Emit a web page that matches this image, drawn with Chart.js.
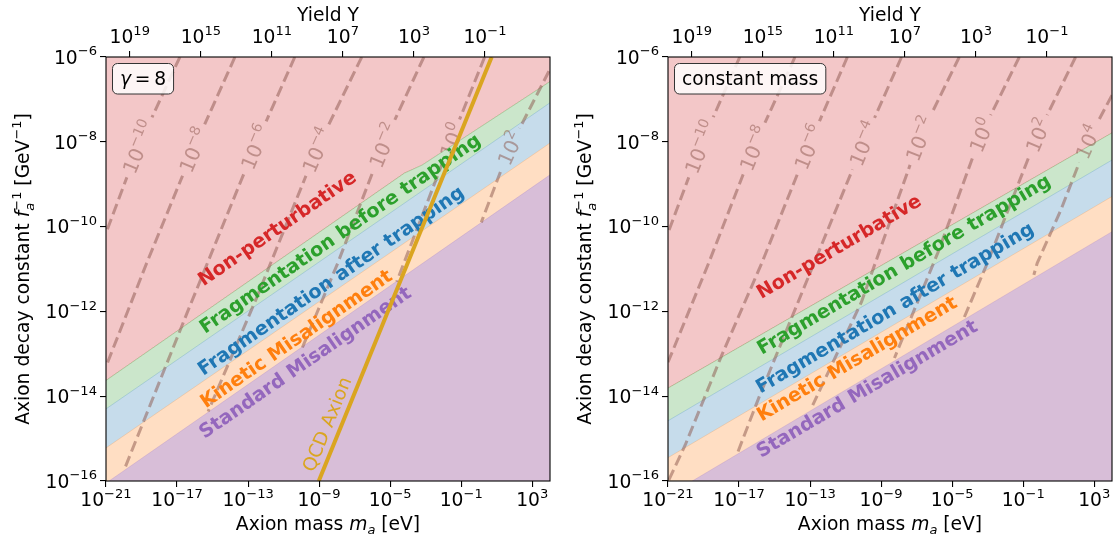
<!DOCTYPE html>
<html>
<head>
<meta charset="utf-8">
<script src="https://cdn.jsdelivr.net/npm/chart.js@4.4.1/dist/chart.umd.min.js"></script>
<style>
  body { margin: 0; background: #fff; }
  #wrap { position: relative; width: 1118px; height: 540px; }
  canvas { position: absolute; top: 0; }
</style>
</head>
<body>
<div id="wrap">
  <canvas id="left" width="559" height="540" style="left:0"></canvas>
  <canvas id="right" width="559" height="540" style="left:559px"></canvas>
</div>
<script>
// axis ticks and limits
const massTicks = [1e-21, 1e-17, 1e-13, 1e-9, 1e-5, 1e-1, 1e3];
const decayTicks = [1e-16, 1e-14, 1e-12, 1e-10, 1e-8, 1e-6];
const yieldTicks = [1e19, 1e15, 1e11, 1e7, 1e3, 1e-1];
const massLim = [1e-21, 1e4];
const decayLim = [1e-16, 1e-6];
const yieldLim = [10 ** -4.66, 10 ** 20.34]; // top axis, runs backwards

// regime boundaries, all in log10 (m_a in eV, f_a^-1 in GeV^-1)
const edgeM = [-21, 4];
const leftNonPertM = [-21, -4.2, -3.2, 4];
const leftNonPert = [-13.63, -8.74, -8.55, -6.58];
const leftFragBefore = [-14.30, -7.08];
const leftFragAfter = [-15.22, -8.03];
const leftKinetic = [-16.05, -8.78];
const rightNonPert = [-13.81, -7.79];
const rightFragBefore = [-14.58, -8.43];
const rightFragAfter = [-15.45, -9.29];
const rightKinetic = [-16.34, -10.12];

// yield contours (log10 Y)
const leftYieldExp = [-10, -8, -6, -4, -2, 0, 2];
const leftContM = [
  [-16.84, -19.18, -21],
  [-13.74, -16.09, -18.71, -21],
  [-10.37, -12.62, -16.4, -20.0],
  [-6.6, -9.15, -12.52, -15.25],
  [-3.1, -5.40, -7.95, -9.95],
  [0.32, -1.56, -4.63],
  [4.35, 1.72, 0.13]
];
const leftContF = [
  [-6, -8.12, -10.15],
  [-6, -8.19, -10.86, -13.3],
  [-6, -8.12, -12, -15.76],
  [-6, -8.19, -11.68, -14.36],
  [-6, -8.08, -10.86, -12.86],
  [-6, -7.96, -11.3],
  [-6, -8.15, -9.9]
];
const leftLabelM = [-19.18, -16.09, -12.62, -9.15, -5.40, -1.56, 1.72];
const leftLabelF = [-8.12, -8.19, -8.12, -8.19, -8.08, -7.96, -8.15];

const rightYieldExp = [-10, -8, -6, -4, -2, 0, 2, 4];
const rightContM = [
  [-16.96, -19.19, -21],
  [-13.85, -16.19, -18.71, -21],
  [-10.9, -13.10, -15.72, -17.97, -20.03, -20.98],
  [-7.85, -10.01, -15.9, -17.07],
  [-4.6, -6.84, -10.1, -12.85],
  [-1.22, -3.38, -5.81, -8.25],
  [1.95, -0.20, -3.02, -4.35],
  [4.0, 2.61, 1.12, -0.21, -0.4]
];
const rightContF = [
  [-6, -8.12, -10.15],
  [-6, -8.15, -10.86, -13.2],
  [-6, -8.12, -10.86, -13.03, -15.15, -16.0],
  [-6, -8.04, -14.05, -15.32],
  [-6, -7.92, -11.77, -14.21],
  [-6, -7.84, -10.62, -13.1],
  [-6, -7.84, -10.86, -12.17],
  [-6.9, -8.0, -9.61, -10.86, -11.14]
];
const rightLabelM = [-19.19, -16.19, -13.10, -10.01, -6.84, -3.38, -0.20, 2.61];
const rightLabelF = [-8.12, -8.15, -8.12, -8.04, -7.92, -7.84, -7.84, -8.0];

// QCD axion line
const qcdM = [-9.02, 0.716];
const qcdF = [-16, -6];

// region names and where they sit
const regionNames = ['Non-perturbative', 'Fragmentation before trapping', 'Fragmentation after trapping', 'Kinetic Misalignment', 'Standard Misalignment'];
const regionColors = ['#d62728', '#2ca02c', '#1f77b4', '#ff7f0e', '#9467bd'];
const leftRegionM = [-11.38, -7.84, -8.35, -10.31, -9.81];
const leftRegionF = [-10.03, -10.15, -11.26, -12.63, -13.19];
const rightRegionM = [-11.39, -7.74, -8.25, -10.38, -9.82];
const rightRegionF = [-10.46, -10.88, -11.90, -13.10, -13.81];
const qcdLabelM = -8.57, qcdLabelF = -14.66;

const RED = 'rgb(243,199,200)';
const GREEN = 'rgb(203,230,203)';
const BLUE = 'rgb(198,220,235)';
const ORANGE = 'rgb(255,222,195)';
const PURPLE = 'rgb(216,190,216)';
const CONT = 'rgba(140,86,75,0.5)';
const GOLD = '#daa520';
const FAMILY = '"DejaVu Sans", sans-serif';
const TXT = 18.7;
const CLABEL = 20;

function fnt(size, style) { return (style || '') + ' ' + size + 'px ' + FAMILY; }

function powParts(exp, size) {
  return [
    { t: '10', size },
    { t: (exp < 0 ? '\u2212' : '') + Math.abs(exp), size: size * 0.7, dy: -size * 0.45 }
  ];
}

function partsWidth(ctx, parts) {
  let w = 0, start = 0, pw = 0;
  for (const p of parts) {
    ctx.font = fnt(p.size, p.style);
    const m = ctx.measureText(p.t).width;
    if (p.stack) { pw = Math.max(pw, m); w = start + pw; }
    else { start = w; pw = m; w += m; }
  }
  return w;
}

function drawParts(ctx, parts, x, y) {
  let w = 0, start = 0, pw = 0;
  ctx.textAlign = 'left';
  ctx.textBaseline = 'alphabetic';
  for (const p of parts) {
    ctx.font = fnt(p.size, p.style);
    const m = ctx.measureText(p.t).width;
    let px;
    if (p.stack) { px = start; pw = Math.max(pw, m); w = start + pw; }
    else { start = w; px = w; pw = m; w += m; }
    ctx.fillText(p.t, x + px, y + (p.dy || 0));
  }
}

function contourLabels(chart, conf) {
  const xs = chart.scales.x, ys = chart.scales.y, ctx = chart.ctx;
  return conf.labelM.map((m, i) => {
    const f = conf.labelF[i];
    const cm = conf.contM[i], cf = conf.contF[i];
    let k = 0, best = Infinity;
    cm.forEach((v, j) => {
      const d = Math.abs(v - m) + Math.abs(cf[j] - f);
      if (d < best) { best = d; k = j; }
    });
    const a = Math.max(0, k - 1), b = Math.min(cm.length - 1, k + 1);
    const dx = xs.getPixelForValue(10 ** cm[b]) - xs.getPixelForValue(10 ** cm[a]);
    const dy = ys.getPixelForValue(10 ** cf[b]) - ys.getPixelForValue(10 ** cf[a]);
    let ang = Math.atan2(dy, dx);
    if (ang > Math.PI / 2) ang -= Math.PI;
    if (ang < -Math.PI / 2) ang += Math.PI;
    const parts = powParts(conf.yieldExp[i], CLABEL);
    return {
      cx: xs.getPixelForValue(10 ** m), cy: ys.getPixelForValue(10 ** f),
      ang, parts, w: partsWidth(ctx, parts)
    };
  });
}

function drawLabels(chart, conf) {
  const ctx = chart.ctx, xs = chart.scales.x, ys = chart.scales.y;
  // contour labels
  for (const L of contourLabels(chart, conf)) {
    ctx.save();
    ctx.translate(L.cx, L.cy);
    ctx.rotate(L.ang);
    ctx.fillStyle = CONT;
    drawParts(ctx, L.parts, -L.w / 2, 8);
    ctx.restore();
  }
  // region names, along the boundaries
  const bx0 = xs.getPixelForValue(10 ** edgeM[0]), bx1 = xs.getPixelForValue(10 ** edgeM[1]);
  const by0 = ys.getPixelForValue(10 ** conf.fbEdge[0]), by1 = ys.getPixelForValue(10 ** conf.fbEdge[1]);
  const ang = Math.atan2(by1 - by0, bx1 - bx0);
  regionNames.forEach((name, i) => {
    ctx.save();
    ctx.translate(xs.getPixelForValue(10 ** conf.regionM[i]), ys.getPixelForValue(10 ** conf.regionF[i]));
    ctx.rotate(ang);
    ctx.fillStyle = regionColors[i];
    ctx.font = fnt(19.2, 'bold');
    ctx.textAlign = 'center';
    ctx.textBaseline = 'alphabetic';
    ctx.fillText(name, 0, 6.7);
    ctx.restore();
  });
  if (conf.qcd) {
    const qa = Math.atan2(
      ys.getPixelForValue(10 ** qcdF[1]) - ys.getPixelForValue(10 ** qcdF[0]),
      xs.getPixelForValue(10 ** qcdM[1]) - xs.getPixelForValue(10 ** qcdM[0]));
    ctx.save();
    ctx.translate(xs.getPixelForValue(10 ** qcdLabelM), ys.getPixelForValue(10 ** qcdLabelF));
    ctx.rotate(qa);
    ctx.fillStyle = GOLD;
    ctx.font = fnt(TXT);
    ctx.textAlign = 'center';
    ctx.fillText('QCD Axion', 0, 6.5);
    ctx.restore();
  }
}

const deco = {
  id: 'deco',
  beforeDraw(chart) { chart.$labelsDone = false; },
  beforeDatasetDraw(chart, args, opts) {
    const ds = chart.data.datasets[args.index];
    const ctx = chart.ctx;
    if (ds.role === 'contour') {
      // cut the dashed line where its label sits
      ctx.save();
      ctx.beginPath();
      ctx.rect(0, 0, chart.width, chart.height);
      for (const L of contourLabels(chart, opts.conf)) {
        const c = Math.cos(L.ang), s = Math.sin(L.ang);
        const hw = L.w / 2 + 5, hh = 10;
        const pts = [[-hw, -hh], [hw, -hh], [hw, hh], [-hw, hh]]
          .map(([u, v]) => [L.cx + u * c - v * s, L.cy + u * s + v * c]);
        ctx.moveTo(pts[0][0], pts[0][1]);
        pts.slice(1).forEach(p => ctx.lineTo(p[0], p[1]));
        ctx.closePath();
      }
      ctx.clip('evenodd');
    }
    if (ds.role === 'qcd' && !chart.$labelsDone) {
      drawLabels(chart, opts.conf);
      chart.$labelsDone = true;
    }
  },
  afterDatasetDraw(chart, args) {
    if (chart.data.datasets[args.index].role === 'contour') chart.ctx.restore();
  },
  afterDatasetsDraw(chart, args, opts) {
    if (!chart.$labelsDone) { drawLabels(chart, opts.conf); chart.$labelsDone = true; }
  },
  afterDraw(chart, args, opts) {
    const ctx = chart.ctx, a = chart.chartArea;
    const xs = chart.scales.x, ys = chart.scales.y, ts = chart.scales.top;
    ctx.save();
    // frame
    ctx.strokeStyle = '#000';
    ctx.lineWidth = 1.1;
    ctx.strokeRect(a.left, a.top, a.right - a.left, a.bottom - a.top);
    ctx.fillStyle = '#000';
    // tick labels
    massTicks.forEach(v => {
      const parts = powParts(Math.round(Math.log10(v)), TXT);
      const w = partsWidth(ctx, parts);
      drawParts(ctx, parts, xs.getPixelForValue(v) - w / 2, a.bottom + 25);
    });
    decayTicks.forEach(v => {
      const parts = powParts(Math.round(Math.log10(v)), TXT);
      const w = partsWidth(ctx, parts);
      drawParts(ctx, parts, a.left - 9 - w, ys.getPixelForValue(v) + 6.8);
    });
    yieldTicks.forEach(v => {
      const parts = powParts(Math.round(Math.log10(v)), TXT);
      const w = partsWidth(ctx, parts);
      drawParts(ctx, parts, ts.getPixelForValue(v) - w / 2, a.top - 14);
    });
    // axis titles
    const cx = (a.left + a.right) / 2;
    const xt = [
      { t: 'Axion mass ', size: TXT }, { t: 'm', size: TXT, style: 'italic' },
      { t: 'a', size: 13, style: 'italic', dy: 4 }, { t: ' [eV]', size: TXT }
    ];
    drawParts(ctx, xt, cx - partsWidth(ctx, xt) / 2, 530);
    const tt = [{ t: 'Yield Y', size: TXT }];
    drawParts(ctx, tt, cx - partsWidth(ctx, tt) / 2, 21);
    const yt = [
      { t: 'Axion decay constant ', size: TXT }, { t: 'f', size: TXT, style: 'italic' },
      { t: 'a', size: 13, style: 'italic', dy: 5 }, { t: '\u22121', size: 13, dy: -8, stack: true },
      { t: ' [GeV', size: TXT }, { t: '\u22121', size: 13, dy: -8 }, { t: ']', size: TXT }
    ];
    ctx.translate(a.left - 77.5, (a.top + a.bottom) / 2);
    ctx.rotate(-Math.PI / 2);
    drawParts(ctx, yt, -partsWidth(ctx, yt) / 2, 0);
    ctx.restore();

    // annotation box in the corner
    const box = opts.conf.box;
    ctx.save();
    const bw = partsWidth(ctx, box) + 15, bh = 30.5;
    const bx = a.left + 6.5, by = a.top + 6.5;
    ctx.beginPath();
    ctx.roundRect(bx, by, bw, bh, 5);
    ctx.fillStyle = 'rgba(255,255,255,0.82)';
    ctx.fill();
    ctx.strokeStyle = '#333';
    ctx.lineWidth = 1;
    ctx.stroke();
    ctx.fillStyle = '#000';
    drawParts(ctx, box, bx + 7.5, by + bh / 2 + 6.5);
    ctx.restore();
  }
};

function logAxis(position, lim, ticks, extra) {
  return Object.assign({
    type: 'logarithmic',
    position,
    min: lim[0],
    max: lim[1],
    afterBuildTicks: s => { s.ticks = ticks.map(v => ({ value: v })); },
    ticks: { display: false },
    grid: { display: true, drawOnChartArea: false, drawTicks: true, tickLength: 6, color: '#000', lineWidth: 1.1 },
    border: { display: false }
  }, extra);
}

function buildPanel(id, conf) {
  const P = (ms, fs) => ms.map((m, i) => ({ x: 10 ** m, y: 10 ** fs[i] }));
  const band = (ms, fs, bg, edge, fill, order) => ({
    data: P(ms, fs), fill, backgroundColor: bg, borderColor: edge, borderWidth: 1,
    pointRadius: 0, order, clip: 0, xAxisID: 'x', yAxisID: 'y'
  });
  const datasets = [
    band(conf.npM, conf.npEdge, RED, 'rgba(214,39,40,0.25)', 'end', 20),
    band(conf.npM, conf.npEdge, GREEN, 'rgba(44,160,44,0.25)', 'start', 19),
    band(edgeM, conf.fbEdge, BLUE, 'rgba(31,119,180,0.2)', 'start', 18),
    band(edgeM, conf.faEdge, ORANGE, 'rgba(255,127,14,0.2)', 'start', 17),
    band(edgeM, conf.kmEdge, PURPLE, 'rgba(148,103,189,0.2)', 'start', 16)
  ];
  conf.contM.forEach((cm, i) => datasets.push({
    role: 'contour', data: P(cm, conf.contF[i]), borderColor: CONT, borderWidth: 3,
    borderDash: [11, 5], fill: false, pointRadius: 0, order: 10, clip: 0, xAxisID: 'x', yAxisID: 'y'
  }));
  if (conf.qcd) datasets.push({
    role: 'qcd', data: P(qcdM, qcdF), borderColor: GOLD, borderWidth: 4,
    fill: false, pointRadius: 0, order: 1, clip: 0, xAxisID: 'x', yAxisID: 'y'
  });

  new Chart(document.getElementById(id), {
    type: 'line',
    data: { datasets },
    options: {
      responsive: false,
      animation: false,
      devicePixelRatio: 1,
      layout: { padding: { left: 0, right: conf.padRight, top: 0, bottom: 0 } },
      plugins: { legend: { display: false }, tooltip: { enabled: false }, deco: { conf } },
      elements: { line: { tension: 0 } },
      scales: {
        x: logAxis('bottom', massLim, massTicks, { afterFit: s => { s.height = 59; } }),
        y: logAxis('left', decayLim, decayTicks, { afterFit: s => { s.width = conf.yWidth; } }),
        top: logAxis('top', yieldLim, yieldTicks, { axis: 'x', reverse: true, afterFit: s => { s.height = 57; } })
      }
    },
    plugins: [deco]
  });
}

buildPanel('left', {
  yWidth: 106, padRight: 9, qcd: true,
  npM: leftNonPertM, npEdge: leftNonPert, fbEdge: leftFragBefore, faEdge: leftFragAfter, kmEdge: leftKinetic,
  contM: leftContM, contF: leftContF, yieldExp: leftYieldExp, labelM: leftLabelM, labelF: leftLabelF,
  regionM: leftRegionM, regionF: leftRegionF,
  box: [{ t: '\u03b3', size: TXT, style: 'italic' }, { t: '\u2009=\u20098', size: TXT }]
});
buildPanel('right', {
  yWidth: 109, padRight: 6, qcd: false,
  npM: edgeM, npEdge: rightNonPert, fbEdge: rightFragBefore, faEdge: rightFragAfter, kmEdge: rightKinetic,
  contM: rightContM, contF: rightContF, yieldExp: rightYieldExp, labelM: rightLabelM, labelF: rightLabelF,
  regionM: rightRegionM, regionF: rightRegionF,
  box: [{ t: 'constant mass', size: TXT }]
});
</script>
</body>
</html>
